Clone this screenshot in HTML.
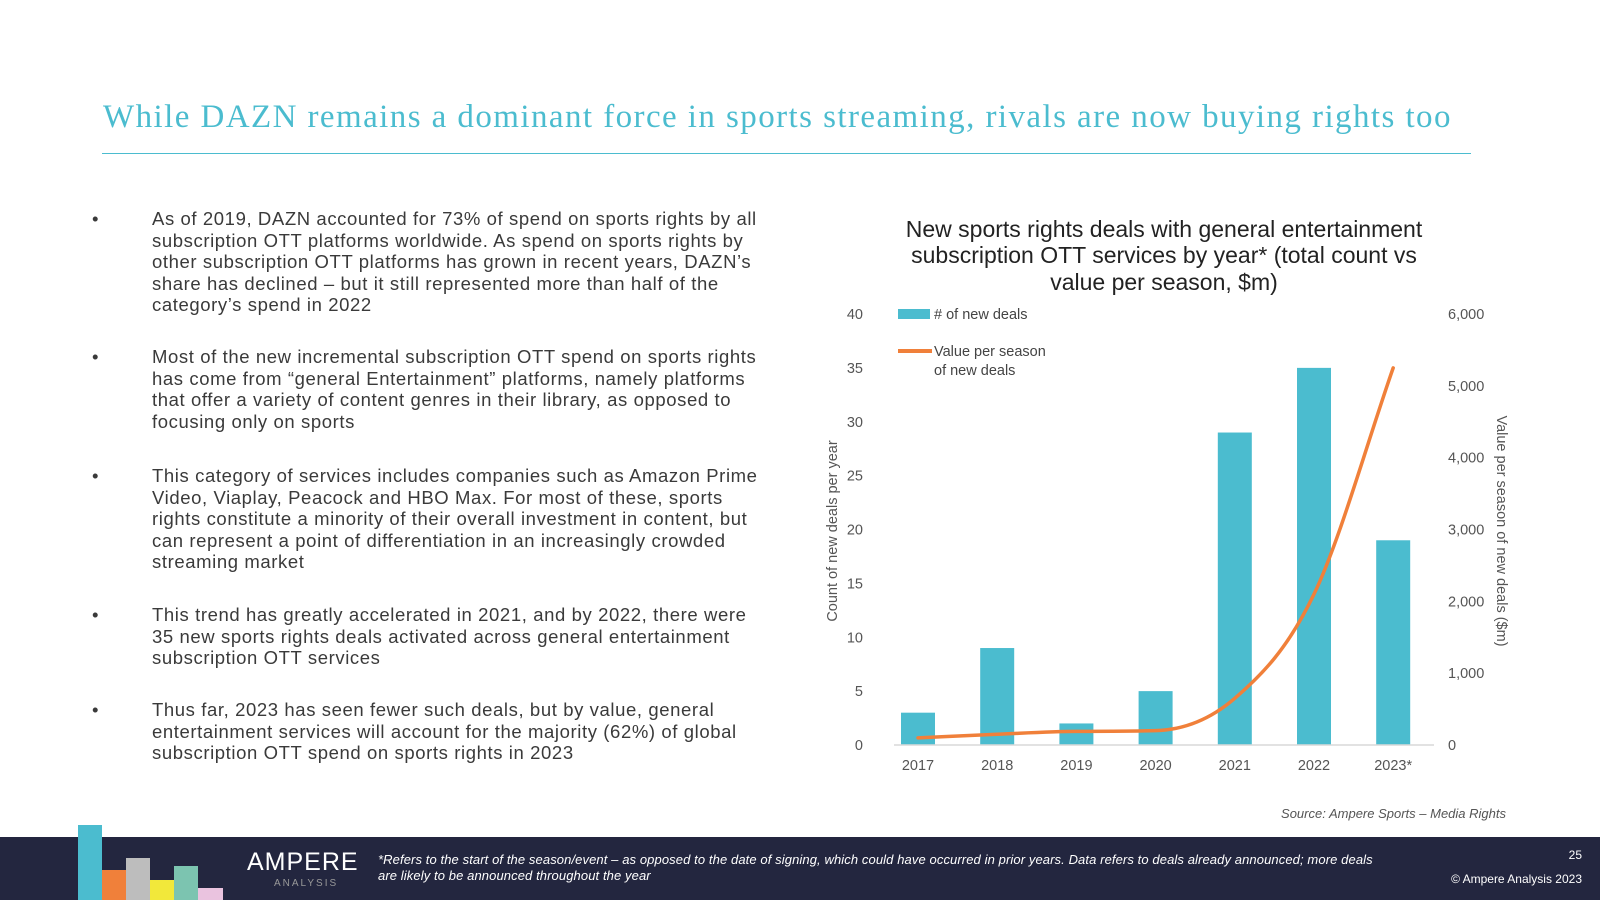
<!DOCTYPE html>
<html><head><meta charset="utf-8"><style>
body{margin:0;width:1600px;height:900px;position:relative;background:#fff;font-family:"Liberation Sans",sans-serif;overflow:hidden}
.a{position:absolute}
#title{left:103px;top:99px;font-family:"Liberation Serif",serif;font-size:33px;letter-spacing:1.43px;color:#4bbccf;white-space:nowrap}
#rule{left:102px;top:153px;width:1369px;height:1px;background:#4bbccf}
.b{position:absolute;left:152px;white-space:nowrap;font-size:18.5px;letter-spacing:0.6px;line-height:21.5px;color:#3a3a3a}
.b:before{content:"•";position:absolute;left:-60px;}
#footer{left:0;top:837px;width:1600px;height:63px;background:#23263f}
.fn{color:#fff;font-style:italic;font-size:13px;letter-spacing:0.1px;line-height:16px;white-space:nowrap}
</style></head><body>
<div class="a" id="title">While DAZN remains a dominant force in sports streaming, rivals are now buying rights too</div>
<div class="a" id="rule"></div>
<div class="b" style="top:208px">As of 2019, DAZN accounted for 73% of spend on sports rights by all<br>subscription OTT platforms worldwide. As spend on sports rights by<br>other subscription OTT platforms has grown in recent years, DAZN’s<br>share has declined – but it still represented more than half of the<br>category’s spend in 2022</div>
<div class="b" style="top:346px">Most of the new incremental subscription OTT spend on sports rights<br>has come from “general Entertainment” platforms, namely platforms<br>that offer a variety of content genres in their library, as opposed to<br>focusing only on sports</div>
<div class="b" style="top:465px">This category of services includes companies such as Amazon Prime<br>Video, Viaplay, Peacock and HBO Max. For most of these, sports<br>rights constitute a minority of their overall investment in content, but<br>can represent a point of differentiation in an increasingly crowded<br>streaming market</div>
<div class="b" style="top:604px">This trend has greatly accelerated in 2021, and by 2022, there were<br>35 new sports rights deals activated across general entertainment<br>subscription OTT services</div>
<div class="b" style="top:699px">Thus far, 2023 has seen fewer such deals, but by value, general<br>entertainment services will account for the majority (62%) of global<br>subscription OTT spend on sports rights in 2023</div>

<svg class="a" style="left:0;top:0" width="1600" height="900" id="chart">
<g font-family="Liberation Sans, sans-serif" fill="#222" font-size="23" text-anchor="middle">
<text x="1164" y="237">New sports rights deals with general entertainment</text>
<text x="1164" y="263">subscription OTT services by year* (total count vs</text>
<text x="1164" y="290">value per season, $m)</text>
</g>
<g id="plot"></g>
<text transform="translate(837,531) rotate(-90)" text-anchor="middle" font-size="14.5" fill="#555" font-family="Liberation Sans, sans-serif">Count of new deals per year</text>
<text transform="translate(1497,531) rotate(90)" text-anchor="middle" font-size="14.5" fill="#555" font-family="Liberation Sans, sans-serif">Value per season of new deals ($m)</text>
<rect x="898" y="309" width="32" height="10" fill="#4bbccf"/>
<text x="934" y="319" font-size="14.5" fill="#444" font-family="Liberation Sans, sans-serif"># of new deals</text>
<line x1="898" y1="351" x2="932" y2="351" stroke="#f0803a" stroke-width="4"/>
<text font-size="14.5" fill="#444" font-family="Liberation Sans, sans-serif"><tspan x="934" y="356">Value per season</tspan><tspan x="934" y="375">of new deals</tspan></text>
<text x="1506" y="818" text-anchor="end" font-size="13" font-style="italic" fill="#555" font-family="Liberation Sans, sans-serif">Source: Ampere Sports – Media Rights</text>
</svg>

<div class="a" id="footer"></div>
<div class="a" style="left:78px;top:825px;width:24px;height:75px;background:#4bbccf"></div>
<div class="a" style="left:102px;top:870px;width:24px;height:30px;background:#f0803a"></div>
<div class="a" style="left:126px;top:858px;width:24px;height:42px;background:#bdbdbd"></div>
<div class="a" style="left:150px;top:880px;width:24px;height:20px;background:#f2e83a"></div>
<div class="a" style="left:174px;top:866px;width:24px;height:34px;background:#7cc4b0"></div>
<div class="a" style="left:198px;top:888px;width:25px;height:12px;background:#eac3df"></div>
<div class="a" style="left:247px;top:848px;color:#fff;font-size:25px;letter-spacing:1px">AMPERE</div>
<div class="a" style="left:274px;top:878px;color:#999;font-size:10px;letter-spacing:2px">ANALYSIS</div>
<div class="a fn" style="left:378px;top:852px">*Refers to the start of the season/event – as opposed to the date of signing, which could have occurred in prior years. Data refers to deals already announced; more deals<br>are likely to be announced throughout the year</div>
<div class="a" style="right:18px;top:848px;color:#fff;font-size:12px">25</div>
<div class="a" style="right:18px;top:872px;color:#fff;font-size:12px">© Ampere Analysis 2023</div>

<script>
const categories=["2017","2018","2019","2020","2021","2022","2023*"];
const dealCounts=[3,9,2,5,29,35,19];
const valuePerSeason=[100,150,190,200,650,2100,5250];
const leftTicks=[0,5,10,15,20,25,30,35,40];
const rightTicks=[0,1000,2000,3000,4000,5000,6000];
const rightTickLabels=["0","1,000","2,000","3,000","4,000","5,000","6,000"];
const NS="http://www.w3.org/2000/svg";
const plotG=document.getElementById("plot");
const baseY=745, topY=314;
const yL=v=>baseY-(v/40)*(baseY-topY);
const yR=v=>baseY-(v/6000)*(baseY-topY);
const xC=i=>918+i*79.2;
function mk(t,a){const e=document.createElementNS(NS,t);for(const k in a)e.setAttribute(k,a[k]);plotG.appendChild(e);return e;}
leftTicks.forEach(v=>{const t=mk("text",{x:863,y:yL(v)+5,"text-anchor":"end","font-size":14.5,fill:"#555","font-family":"Liberation Sans, sans-serif"});t.textContent=v;

});
rightTicks.forEach((v,i)=>{const t=mk("text",{x:1448,y:yR(v)+5,"font-size":14.5,fill:"#555","font-family":"Liberation Sans, sans-serif"});t.textContent=rightTickLabels[i];

});
dealCounts.forEach((v,i)=>{const r=mk("rect",{x:xC(i)-17,y:yL(v),width:34,height:baseY-yL(v),fill:"#4bbccf"});

});
const ax=mk("line",{x1:894,x2:1434,y1:baseY,y2:baseY,stroke:"#d9d9d9","stroke-width":1.5});


categories.forEach((c,i)=>{const t=mk("text",{x:xC(i),y:770,"text-anchor":"middle","font-size":14.5,fill:"#555","font-family":"Liberation Sans, sans-serif"});t.textContent=c;

});
const px=valuePerSeason.map((v,i)=>xC(i)), py=valuePerSeason.map(v=>yR(v));
const n=px.length, dx=[], sl=[];
for(let i=0;i<n-1;i++){dx.push(px[i+1]-px[i]);sl.push((py[i+1]-py[i])/dx[i]);}
const m=[sl[0]];
for(let i=1;i<n-1;i++){m.push(sl[i-1]*sl[i]<=0?0:(sl[i-1]+sl[i])/2);}
m.push(sl[n-2]);
for(let i=0;i<n-1;i++){if(sl[i]===0){m[i]=0;m[i+1]=0;continue;}const a=m[i]/sl[i],b=m[i+1]/sl[i],s=a*a+b*b;if(s>9){const t=3/Math.sqrt(s);m[i]=t*a*sl[i];m[i+1]=t*b*sl[i];}}
let d="M"+px[0]+","+py[0];
for(let i=0;i<n-1;i++){const h=dx[i]/3;d+=` C${px[i]+h},${py[i]+m[i]*h} ${px[i+1]-h},${py[i+1]-m[i+1]*h} ${px[i+1]},${py[i+1]}`;}
const ln=mk("path",{d:d,fill:"none",stroke:"#f0803a","stroke-width":3.5,"stroke-linecap":"round"});


</script>
</body></html>
